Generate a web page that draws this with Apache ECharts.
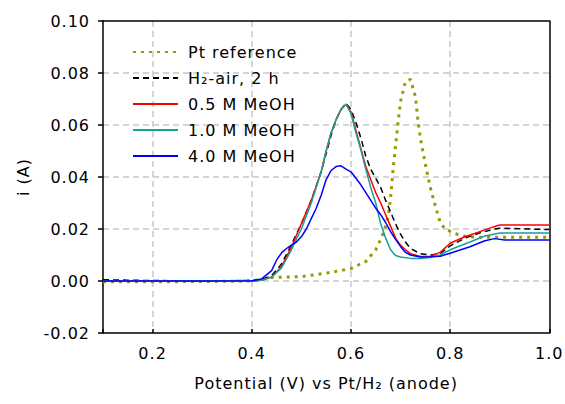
<!DOCTYPE html>
<html>
<head>
<meta charset="utf-8">
<script src="https://cdn.jsdelivr.net/npm/echarts@6/dist/echarts.min.js"></script>
<style>
  html, body { margin: 0; padding: 0; background: #fff; }
  #main { width: 565px; height: 404px; }
  #main text { letter-spacing: 1px; }
</style>
</head>
<body>
<div id="main"></div>
<script>
// series names
var names = ['Pt reference', 'H₂-air, 2 h', '0.5 M MeOH', '1.0 M MeOH', '4.0 M MeOH'];

// [potential (V), current (A)]
var ptRef = [
    [0.10, -0.0003], [0.20, -0.0003], [0.30, -0.0002], [0.40, 0.0000], [0.44, 0.0013],
    [0.50, 0.0017], [0.55, 0.0030], [0.60, 0.0048], [0.63, 0.0075], [0.65, 0.0120],
    [0.66, 0.0160], [0.67, 0.0210], [0.675, 0.0250], [0.68, 0.0320], [0.685, 0.0430],
    [0.69, 0.0520], [0.695, 0.0610], [0.70, 0.0690], [0.71, 0.0768], [0.72, 0.0775],
    [0.73, 0.0710], [0.735, 0.0620], [0.74, 0.0550], [0.75, 0.0450], [0.76, 0.0360],
    [0.77, 0.0290], [0.78, 0.0225], [0.79, 0.0200], [0.81, 0.0182], [0.83, 0.0172],
    [0.86, 0.0168], [1.00, 0.0168]
];
var h2air = [
    [0.10, 0.0005], [0.15, 0.0003], [0.20, 0.0002], [0.30, 0.0000], [0.40, 0.0002],
    [0.42, 0.0005], [0.44, 0.0020], [0.46, 0.0065], [0.48, 0.0140], [0.50, 0.0220],
    [0.52, 0.0310], [0.54, 0.0420], [0.56, 0.0560], [0.57, 0.0620], [0.58, 0.0660],
    [0.59, 0.0683], [0.60, 0.0660], [0.61, 0.0610], [0.62, 0.0550], [0.63, 0.0480],
    [0.64, 0.0430], [0.65, 0.0395], [0.66, 0.0360], [0.67, 0.0310], [0.68, 0.0265],
    [0.69, 0.0220], [0.70, 0.0180], [0.71, 0.0150], [0.72, 0.0125], [0.74, 0.0105],
    [0.76, 0.0100], [0.78, 0.0105], [0.80, 0.0135], [0.83, 0.0165], [0.86, 0.0185],
    [0.89, 0.0200], [0.90, 0.0203], [1.00, 0.0198]
];
var meoh05 = [
    [0.10, 0.0000], [0.20, 0.0000], [0.30, 0.0000], [0.40, 0.0000], [0.42, 0.0003],
    [0.44, 0.0015], [0.46, 0.0055], [0.48, 0.0130], [0.50, 0.0220], [0.52, 0.0310],
    [0.54, 0.0420], [0.55, 0.0500], [0.56, 0.0570], [0.57, 0.0620], [0.58, 0.0660],
    [0.59, 0.0680], [0.60, 0.0650], [0.61, 0.0580], [0.62, 0.0510], [0.63, 0.0440],
    [0.64, 0.0390], [0.65, 0.0340], [0.66, 0.0300], [0.67, 0.0255], [0.68, 0.0210],
    [0.69, 0.0165], [0.70, 0.0138], [0.71, 0.0120], [0.72, 0.0105], [0.74, 0.0094],
    [0.76, 0.0095], [0.78, 0.0110], [0.80, 0.0145], [0.83, 0.0170], [0.86, 0.0190],
    [0.89, 0.0210], [0.90, 0.0215], [1.00, 0.0215]
];
var meoh10 = [
    [0.10, 0.0000], [0.20, 0.0000], [0.30, 0.0001], [0.40, 0.0001], [0.42, 0.0003],
    [0.44, 0.0015], [0.46, 0.0050], [0.48, 0.0120], [0.50, 0.0200], [0.52, 0.0300],
    [0.54, 0.0420], [0.55, 0.0500], [0.56, 0.0570], [0.57, 0.0620], [0.58, 0.0660],
    [0.59, 0.0680], [0.60, 0.0645], [0.61, 0.0570], [0.62, 0.0505], [0.63, 0.0430],
    [0.64, 0.0360], [0.65, 0.0300], [0.66, 0.0220], [0.67, 0.0165], [0.68, 0.0120],
    [0.69, 0.0098], [0.70, 0.0092], [0.72, 0.0087], [0.74, 0.0087], [0.76, 0.0090],
    [0.78, 0.0100], [0.80, 0.0120], [0.84, 0.0150], [0.87, 0.0173], [0.90, 0.0185],
    [1.00, 0.0185]
];
var meoh40 = [
    [0.10, 0.0000], [0.20, 0.0000], [0.30, 0.0000], [0.40, 0.0001], [0.42, 0.0008],
    [0.44, 0.0040], [0.45, 0.0080], [0.46, 0.0108], [0.47, 0.0125], [0.48, 0.0138],
    [0.49, 0.0150], [0.50, 0.0170], [0.51, 0.0200], [0.52, 0.0240], [0.53, 0.0280],
    [0.54, 0.0330], [0.55, 0.0390], [0.56, 0.0425], [0.57, 0.0440], [0.58, 0.0443],
    [0.59, 0.0430], [0.60, 0.0420], [0.61, 0.0395], [0.62, 0.0370], [0.63, 0.0340],
    [0.64, 0.0310], [0.65, 0.0280], [0.66, 0.0255], [0.67, 0.0225], [0.68, 0.0190],
    [0.69, 0.0160], [0.70, 0.0133], [0.71, 0.0110], [0.72, 0.0100], [0.74, 0.0092],
    [0.76, 0.0093], [0.78, 0.0095], [0.80, 0.0107], [0.84, 0.0132], [0.87, 0.0155],
    [0.89, 0.0163], [0.91, 0.0158], [1.00, 0.0158]
];

var colors = ['#999900', '#000000', '#ff0000', '#16a09a', '#0000ff'];
var font = 'DejaVu Sans';

function line(name, data, color, width, dash) {
    return {
        name: name,
        type: 'line',
        data: data,
        symbol: 'none',
        smooth: false,
        z: 3,
        lineStyle: { color: color, width: width, type: dash },
        itemStyle: { color: color }
    };
}

var myChart = echarts.init(document.getElementById('main'), null, { renderer: 'svg' });

var option = {
    animation: false,
    backgroundColor: '#fff',
    grid: { left: 103, right: 12, top: 21, bottom: 71 },
    legend: {
        orient: 'vertical',
        left: 127,
        top: 39,
        itemWidth: 45,
        itemHeight: 16,
        itemGap: 10,
        itemStyle: { opacity: 0 },
        textStyle: { fontFamily: font, fontSize: 16, color: '#000', lineHeight: 16, padding: [0, 0, 0, 5] },
        data: names
    },
    xAxis: [{
        type: 'value',
        min: 0.1,
        max: 1.0,
        name: 'Potential (V) vs Pt/H₂ (anode)',
        nameLocation: 'middle',
        nameGap: 42,
        nameTextStyle: { fontFamily: font, fontSize: 16, color: '#000' },
        axisLine: { onZero: false, lineStyle: { color: '#000', width: 1.5 } },
        axisTick: { show: true, inside: true, length: 4, lineStyle: { color: '#000', width: 1.5 } },
        axisLabel: {
            fontFamily: font, fontSize: 16, color: '#000', margin: 12,
            formatter: function (v) {
                var r = Math.round(v * 10);
                return r % 2 === 0 ? (r / 10).toFixed(1) : '';
            }
        },
        splitLine: { show: true, showMinLine: false, showMaxLine: false,
            lineStyle: { color: '#c8c8c8', width: 1.5, type: [6, 4] } }
    }, {
        type: 'value', position: 'top', min: 0.1, max: 1.0,
        axisLine: { show: true, onZero: false, lineStyle: { color: '#000', width: 1.5 } },
        axisTick: { show: false }, axisLabel: { show: false }, splitLine: { show: false }
    }],
    yAxis: [{
        type: 'value',
        min: -0.02,
        max: 0.10,
        interval: 0.02,
        name: 'i (A)',
        nameLocation: 'middle',
        nameGap: 72,
        nameRotate: 90,
        nameTextStyle: { fontFamily: font, fontSize: 16, color: '#000' },
        axisLine: { show: true, onZero: false, lineStyle: { color: '#000', width: 1.5 } },
        axisTick: { show: true, length: 5, lineStyle: { color: '#000', width: 1.5 } },
        axisLabel: {
            fontFamily: font, fontSize: 16, color: '#000', margin: 13,
            formatter: function (v) { return v.toFixed(2); }
        },
        splitLine: { show: true, showMinLine: false, showMaxLine: false,
            lineStyle: { color: '#c8c8c8', width: 1.5, type: [6, 4] } }
    }, {
        type: 'value', position: 'right', min: -0.02, max: 0.10, interval: 0.02,
        axisLine: { show: true, onZero: false, lineStyle: { color: '#000', width: 1.5 } },
        axisTick: { show: false }, axisLabel: { show: false }, splitLine: { show: false }
    }],
    series: [
        line(names[0], ptRef, colors[0], 3, [3, 5]),
        line(names[1], h2air, colors[1], 1.5, [6, 4]),
        line(names[2], meoh05, colors[2], 1.5, 'solid'),
        line(names[3], meoh10, colors[3], 1.5, 'solid'),
        line(names[4], meoh40, colors[4], 1.5, 'solid')
    ]
};

myChart.setOption(option);
</script>
</body>
</html>
